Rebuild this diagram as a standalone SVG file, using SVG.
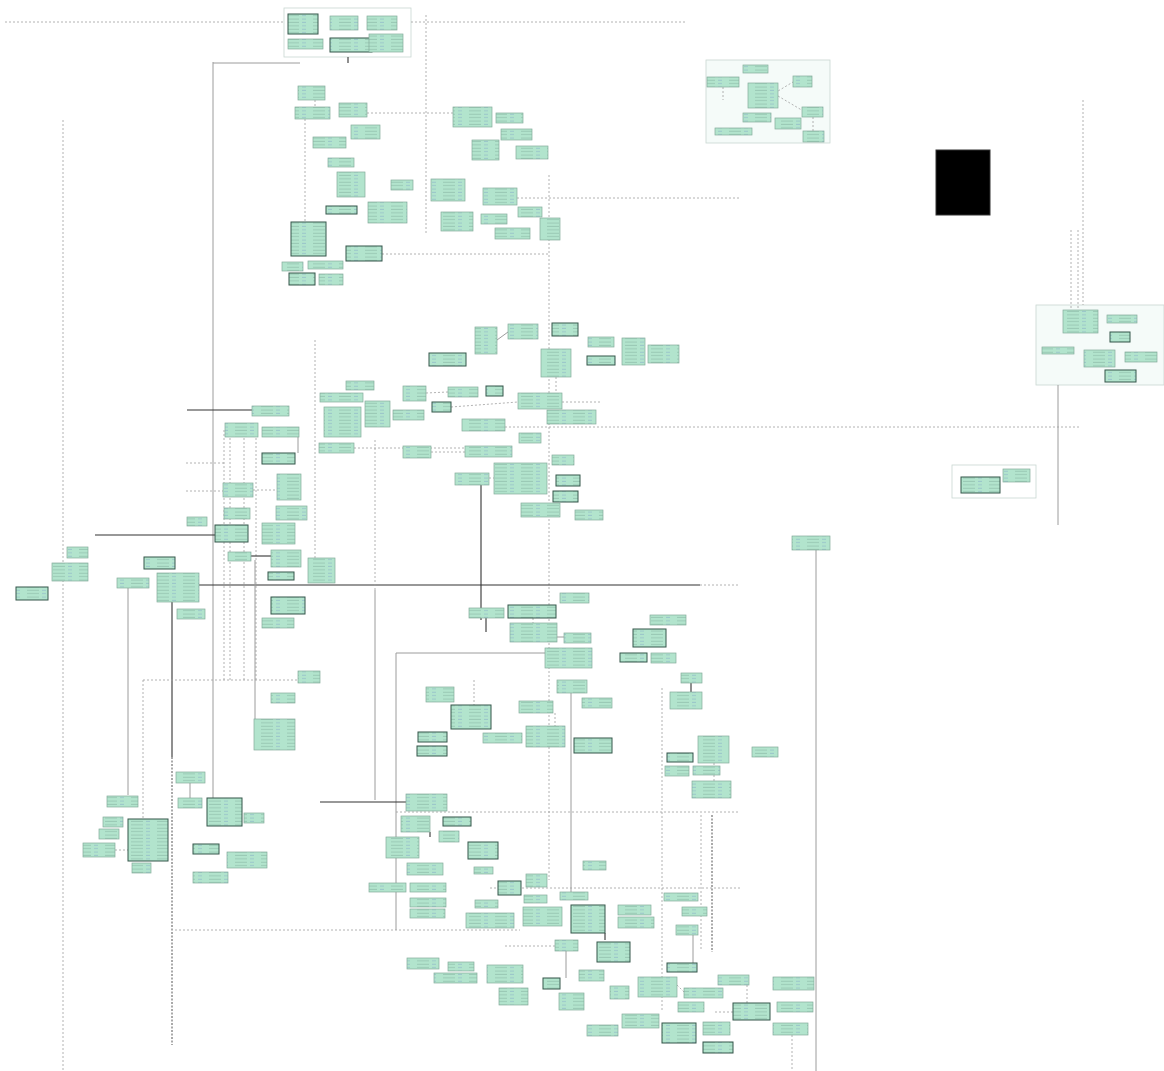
<svg xmlns="http://www.w3.org/2000/svg" width="1164" height="1071" viewBox="0 0 1164 1071">
<defs>
<pattern id="tx" patternUnits="userSpaceOnUse" width="26" height="3.4">
<rect width="26" height="3.4" fill="#b2e4cd"/>
<line x1="1" y1="2" x2="13" y2="2" stroke="#86b4a1" stroke-width="0.6"/>
<line x1="16" y1="2" x2="20" y2="2" stroke="#7fa6c6" stroke-width="0.5"/>
</pattern>
<style>
.n{fill:url(#tx);stroke:#84ab9a;stroke-width:0.7}
.d{stroke:#35564a;stroke-width:1}
.k{fill:#000;stroke:#333}
.f{fill:#f5fbf9;stroke:#c9d6d1;stroke-width:0.8}
.fw{fill:#ffffff;stroke:#c9d6d1;stroke-width:0.8}
.c{fill:none}
.dt{stroke:#a0a0a0;stroke-width:0.8;stroke-dasharray:2 2}
.dk{stroke:#555;stroke-width:1;stroke-dasharray:2 1.5}
.g{stroke:#9c9c9c;stroke-width:1}
.s{stroke:#333;stroke-width:1.1}
</style>
</defs>
<rect width="1164" height="1071" fill="#ffffff"/>
<g id="frames">
<rect class="fw" x="284" y="8" width="127" height="49"/>
<rect class="f" x="706" y="60" width="124" height="83"/>
<rect class="f" x="1036" y="305" width="128" height="80"/>
<rect class="fw" x="952" y="465" width="84" height="33"/>
</g>
<g id="connectors" class="c">
<line class="dt" x1="5" y1="22" x2="284" y2="22"/>
<line class="dt" x1="411" y1="22" x2="685" y2="22"/>
<line class="s" x1="348" y1="57" x2="348" y2="63"/>
<line class="g" x1="213" y1="62" x2="213" y2="800"/>
<line class="g" x1="213" y1="63" x2="300" y2="63"/>
<line class="dt" x1="426" y1="15" x2="426" y2="235"/>
<line class="dt" x1="367" y1="113" x2="453" y2="113"/>
<line class="dt" x1="305" y1="119" x2="305" y2="222"/>
<line class="dt" x1="382" y1="254" x2="549" y2="254"/>
<line class="dt" x1="549" y1="175" x2="549" y2="880"/>
<line class="dt" x1="517" y1="198" x2="740" y2="198"/>
<line class="dt" x1="63" y1="120" x2="63" y2="1071"/>
<line class="s" x1="199" y1="585" x2="700" y2="585"/>
<line class="dt" x1="700" y1="585" x2="740" y2="585"/>
<line class="s" x1="187" y1="410" x2="252" y2="410"/>
<line class="dt" x1="186" y1="491" x2="223" y2="491"/>
<line class="dt" x1="186" y1="463" x2="225" y2="463"/>
<line class="s" x1="95" y1="535" x2="215" y2="535"/>
<line class="dt" x1="315" y1="340" x2="315" y2="560"/>
<line class="dt" x1="375" y1="440" x2="375" y2="590"/>
<line class="g" x1="375" y1="590" x2="375" y2="800"/>
<line class="s" x1="481" y1="480" x2="481" y2="620"/>
<line class="s" x1="486" y1="618" x2="486" y2="632"/>
<line class="dt" x1="224" y1="430" x2="224" y2="680"/>
<line class="dt" x1="230" y1="430" x2="230" y2="680"/>
<line class="dt" x1="244" y1="430" x2="244" y2="680"/>
<line class="dt" x1="256" y1="430" x2="256" y2="680"/>
<line class="dt" x1="505" y1="427" x2="1080" y2="427"/>
<line class="dt" x1="562" y1="402" x2="600" y2="402"/>
<line class="dt" x1="354" y1="448" x2="465" y2="448"/>
<line class="g" x1="128" y1="588" x2="128" y2="795"/>
<line class="s" x1="172" y1="602" x2="172" y2="757"/>
<line class="dk" x1="172" y1="757" x2="172" y2="1045"/>
<line class="dt" x1="143" y1="680" x2="298" y2="680"/>
<line class="dt" x1="143" y1="680" x2="143" y2="820"/>
<line class="g" x1="255" y1="560" x2="255" y2="720"/>
<line class="g" x1="396" y1="653" x2="545" y2="653"/>
<line class="g" x1="396" y1="653" x2="396" y2="930"/>
<line class="g" x1="571" y1="693" x2="571" y2="892"/>
<line class="dt" x1="662" y1="688" x2="662" y2="1010"/>
<line class="dt" x1="701" y1="815" x2="701" y2="950"/>
<line class="dk" x1="712" y1="815" x2="712" y2="952"/>
<line class="dt" x1="396" y1="812" x2="740" y2="812"/>
<line class="s" x1="320" y1="802" x2="406" y2="802"/>
<line class="dt" x1="490" y1="888" x2="740" y2="888"/>
<line class="dt" x1="175" y1="930" x2="520" y2="930"/>
<line class="g" x1="816" y1="550" x2="816" y2="1071"/>
<line class="dt" x1="792" y1="1035" x2="792" y2="1071"/>
<line class="dt" x1="505" y1="946" x2="555" y2="946"/>
<line class="dt" x1="1083" y1="100" x2="1083" y2="305"/>
<line class="dt" x1="1071" y1="230" x2="1071" y2="310"/>
<line class="dt" x1="1078" y1="230" x2="1078" y2="310"/>
<line class="g" x1="1058" y1="385" x2="1058" y2="525"/>
<line class="dt" x1="768" y1="97" x2="793" y2="82"/>
<line class="dt" x1="778" y1="96" x2="805" y2="112"/>
<line class="dt" x1="723" y1="87" x2="723" y2="100"/>
<line class="dt" x1="813" y1="117" x2="813" y2="131"/>
<line class="g" x1="497" y1="340" x2="508" y2="332"/>
<line class="dt" x1="556" y1="377" x2="556" y2="393"/>
<line class="dt" x1="426" y1="393" x2="448" y2="392"/>
<line class="dt" x1="451" y1="407" x2="518" y2="402"/>
<line class="dt" x1="431" y1="452" x2="465" y2="452"/>
<line class="dt" x1="489" y1="478" x2="494" y2="478"/>
<line class="g" x1="298" y1="437" x2="298" y2="453"/>
<line class="dt" x1="253" y1="490" x2="277" y2="490"/>
<line class="s" x1="251" y1="556" x2="271" y2="556"/>
<line class="g" x1="190" y1="783" x2="190" y2="798"/>
<line class="dt" x1="115" y1="850" x2="128" y2="850"/>
<line class="dt" x1="315" y1="100" x2="315" y2="107"/>
<line class="s" x1="481" y1="925" x2="481" y2="913"/>
<line class="s" x1="588" y1="925" x2="588" y2="905"/>
<line class="g" x1="566" y1="951" x2="566" y2="978"/>
<line class="s" x1="605" y1="940" x2="605" y2="933"/>
<line class="g" x1="693" y1="935" x2="693" y2="963"/>
<line class="dt" x1="677" y1="985" x2="684" y2="992"/>
<line class="dt" x1="747" y1="985" x2="747" y2="1003"/>
<line class="dt" x1="715" y1="1012" x2="733" y2="1012"/>
<line class="s" x1="691" y1="683" x2="691" y2="692"/>
<line class="dt" x1="714" y1="763" x2="714" y2="781"/>
<line class="dt" x1="555" y1="713" x2="555" y2="726"/>
<line class="dt" x1="474" y1="680" x2="474" y2="705"/>
<line class="dt" x1="533" y1="618" x2="533" y2="623"/>
<line class="g" x1="557" y1="637" x2="564" y2="637"/>
<line class="s" x1="430" y1="832" x2="430" y2="837"/>
</g>
<g id="nodes">
<g id="n1"><rect class="n d" x="288" y="14" width="30" height="20"/></g>
<g id="n2"><rect class="n" x="330" y="16" width="28" height="14"/></g>
<g id="n3"><rect class="n" x="367" y="16" width="30" height="14"/></g>
<g id="n4"><rect class="n" x="288" y="39" width="35" height="10"/></g>
<g id="n5"><rect class="n d" x="330" y="38" width="42" height="14"/></g>
<g id="n6"><rect class="n" x="369" y="34" width="34" height="18"/></g>
<g id="n7"><rect class="n" x="743" y="65" width="25" height="8"/></g>
<g id="n8"><rect class="n" x="707" y="77" width="32" height="10"/></g>
<g id="n9"><rect class="n" x="748" y="83" width="30" height="25"/></g>
<g id="n10"><rect class="n" x="793" y="76" width="19" height="11"/></g>
<g id="n11"><rect class="n" x="743" y="113" width="28" height="9"/></g>
<g id="n12"><rect class="n" x="775" y="118" width="26" height="11"/></g>
<g id="n13"><rect class="n" x="802" y="107" width="21" height="10"/></g>
<g id="n14"><rect class="n" x="803" y="131" width="21" height="11"/></g>
<g id="n15"><rect class="n" x="715" y="128" width="37" height="7"/></g>
<g id="n16"><rect class="k" x="936" y="150" width="54" height="65"/></g>
<g id="n17"><rect class="n" x="1063" y="310" width="35" height="23"/></g>
<g id="n18"><rect class="n" x="1107" y="315" width="30" height="8"/></g>
<g id="n19"><rect class="n d" x="1110" y="332" width="20" height="10"/></g>
<g id="n20"><rect class="n" x="1042" y="347" width="32" height="7"/></g>
<g id="n21"><rect class="n" x="1084" y="350" width="31" height="17"/></g>
<g id="n22"><rect class="n" x="1125" y="352" width="32" height="10"/></g>
<g id="n23"><rect class="n d" x="1105" y="370" width="31" height="12"/></g>
<g id="n24"><rect class="n d" x="961" y="477" width="39" height="16"/></g>
<g id="n25"><rect class="n" x="1003" y="469" width="27" height="13"/></g>
<g id="n26"><rect class="n" x="298" y="86" width="27" height="14"/></g>
<g id="n27"><rect class="n" x="295" y="107" width="35" height="12"/></g>
<g id="n28"><rect class="n" x="339" y="103" width="28" height="14"/></g>
<g id="n29"><rect class="n" x="351" y="125" width="29" height="14"/></g>
<g id="n30"><rect class="n" x="313" y="137" width="33" height="11"/></g>
<g id="n31"><rect class="n" x="328" y="158" width="26" height="9"/></g>
<g id="n32"><rect class="n" x="337" y="172" width="28" height="25"/></g>
<g id="n33"><rect class="n" x="391" y="180" width="22" height="10"/></g>
<g id="n34"><rect class="n" x="368" y="202" width="39" height="21"/></g>
<g id="n35"><rect class="n d" x="326" y="206" width="31" height="8"/></g>
<g id="n36"><rect class="n d" x="291" y="222" width="35" height="34"/></g>
<g id="n37"><rect class="n d" x="346" y="246" width="36" height="15"/></g>
<g id="n38"><rect class="n" x="282" y="262" width="21" height="9"/></g>
<g id="n39"><rect class="n" x="308" y="261" width="35" height="8"/></g>
<g id="n40"><rect class="n d" x="289" y="273" width="26" height="12"/></g>
<g id="n41"><rect class="n" x="319" y="274" width="24" height="11"/></g>
<g id="n42"><rect class="n" x="453" y="107" width="39" height="20"/></g>
<g id="n43"><rect class="n" x="496" y="113" width="27" height="10"/></g>
<g id="n44"><rect class="n" x="501" y="129" width="31" height="11"/></g>
<g id="n45"><rect class="n" x="472" y="140" width="27" height="20"/></g>
<g id="n46"><rect class="n" x="516" y="146" width="32" height="13"/></g>
<g id="n47"><rect class="n" x="431" y="179" width="34" height="22"/></g>
<g id="n48"><rect class="n" x="483" y="188" width="34" height="17"/></g>
<g id="n49"><rect class="n" x="441" y="212" width="32" height="19"/></g>
<g id="n50"><rect class="n" x="481" y="214" width="26" height="10"/></g>
<g id="n51"><rect class="n" x="518" y="207" width="24" height="10"/></g>
<g id="n52"><rect class="n" x="495" y="228" width="35" height="11"/></g>
<g id="n53"><rect class="n" x="540" y="218" width="20" height="22"/></g>
<g id="n54"><rect class="n" x="475" y="327" width="22" height="27"/></g>
<g id="n55"><rect class="n" x="508" y="324" width="30" height="15"/></g>
<g id="n56"><rect class="n d" x="552" y="323" width="26" height="13"/></g>
<g id="n57"><rect class="n" x="588" y="337" width="26" height="10"/></g>
<g id="n58"><rect class="n d" x="429" y="353" width="37" height="13"/></g>
<g id="n59"><rect class="n" x="541" y="349" width="30" height="28"/></g>
<g id="n60"><rect class="n d" x="587" y="356" width="28" height="9"/></g>
<g id="n61"><rect class="n" x="622" y="338" width="23" height="27"/></g>
<g id="n62"><rect class="n" x="648" y="345" width="31" height="18"/></g>
<g id="n63"><rect class="n" x="346" y="381" width="28" height="9"/></g>
<g id="n64"><rect class="n" x="320" y="393" width="43" height="9"/></g>
<g id="n65"><rect class="n" x="324" y="407" width="37" height="30"/></g>
<g id="n66"><rect class="n" x="365" y="401" width="25" height="26"/></g>
<g id="n67"><rect class="n" x="393" y="410" width="31" height="10"/></g>
<g id="n68"><rect class="n" x="403" y="386" width="23" height="15"/></g>
<g id="n69"><rect class="n" x="448" y="387" width="30" height="10"/></g>
<g id="n70"><rect class="n d" x="486" y="386" width="17" height="10"/></g>
<g id="n71"><rect class="n d" x="432" y="402" width="19" height="10"/></g>
<g id="n72"><rect class="n" x="518" y="393" width="44" height="16"/></g>
<g id="n73"><rect class="n" x="547" y="410" width="49" height="14"/></g>
<g id="n74"><rect class="n" x="462" y="419" width="43" height="12"/></g>
<g id="n75"><rect class="n" x="519" y="433" width="22" height="10"/></g>
<g id="n76"><rect class="n" x="319" y="443" width="35" height="10"/></g>
<g id="n77"><rect class="n" x="403" y="446" width="28" height="12"/></g>
<g id="n78"><rect class="n" x="465" y="446" width="47" height="11"/></g>
<g id="n79"><rect class="n" x="494" y="463" width="53" height="31"/></g>
<g id="n80"><rect class="n" x="455" y="473" width="34" height="12"/></g>
<g id="n81"><rect class="n" x="552" y="455" width="22" height="10"/></g>
<g id="n82"><rect class="n d" x="556" y="475" width="24" height="11"/></g>
<g id="n83"><rect class="n d" x="553" y="491" width="25" height="11"/></g>
<g id="n84"><rect class="n" x="521" y="503" width="39" height="14"/></g>
<g id="n85"><rect class="n" x="575" y="510" width="28" height="10"/></g>
<g id="n86"><rect class="n" x="252" y="406" width="37" height="10"/></g>
<g id="n87"><rect class="n" x="225" y="423" width="33" height="14"/></g>
<g id="n88"><rect class="n" x="262" y="427" width="37" height="10"/></g>
<g id="n89"><rect class="n d" x="262" y="453" width="33" height="11"/></g>
<g id="n90"><rect class="n" x="223" y="483" width="30" height="14"/></g>
<g id="n91"><rect class="n" x="277" y="474" width="24" height="26"/></g>
<g id="n92"><rect class="n" x="224" y="508" width="26" height="11"/></g>
<g id="n93"><rect class="n" x="276" y="506" width="31" height="14"/></g>
<g id="n94"><rect class="n" x="187" y="517" width="20" height="9"/></g>
<g id="n95"><rect class="n d" x="215" y="525" width="33" height="17"/></g>
<g id="n96"><rect class="n" x="262" y="523" width="33" height="21"/></g>
<g id="n97"><rect class="n" x="228" y="552" width="23" height="9"/></g>
<g id="n98"><rect class="n" x="271" y="550" width="30" height="17"/></g>
<g id="n99"><rect class="n d" x="268" y="572" width="26" height="8"/></g>
<g id="n100"><rect class="n" x="308" y="558" width="27" height="25"/></g>
<g id="n101"><rect class="n" x="67" y="547" width="21" height="11"/></g>
<g id="n102"><rect class="n" x="52" y="563" width="36" height="18"/></g>
<g id="n103"><rect class="n d" x="16" y="587" width="32" height="13"/></g>
<g id="n104"><rect class="n d" x="144" y="557" width="31" height="12"/></g>
<g id="n105"><rect class="n" x="117" y="578" width="32" height="10"/></g>
<g id="n106"><rect class="n" x="157" y="573" width="42" height="29"/></g>
<g id="n107"><rect class="n" x="177" y="609" width="28" height="10"/></g>
<g id="n108"><rect class="n d" x="271" y="597" width="34" height="17"/></g>
<g id="n109"><rect class="n" x="262" y="618" width="32" height="10"/></g>
<g id="n110"><rect class="n" x="298" y="671" width="22" height="12"/></g>
<g id="n111"><rect class="n" x="271" y="693" width="24" height="10"/></g>
<g id="n112"><rect class="n" x="254" y="719" width="41" height="31"/></g>
<g id="n113"><rect class="n" x="176" y="772" width="29" height="11"/></g>
<g id="n114"><rect class="n" x="178" y="798" width="24" height="10"/></g>
<g id="n115"><rect class="n d" x="207" y="798" width="35" height="28"/></g>
<g id="n116"><rect class="n" x="244" y="813" width="20" height="10"/></g>
<g id="n117"><rect class="n" x="107" y="796" width="31" height="11"/></g>
<g id="n118"><rect class="n" x="103" y="817" width="20" height="10"/></g>
<g id="n119"><rect class="n" x="99" y="829" width="20" height="10"/></g>
<g id="n120"><rect class="n" x="83" y="843" width="32" height="14"/></g>
<g id="n121"><rect class="n d" x="128" y="819" width="40" height="42"/></g>
<g id="n122"><rect class="n" x="132" y="863" width="19" height="10"/></g>
<g id="n123"><rect class="n d" x="193" y="844" width="26" height="10"/></g>
<g id="n124"><rect class="n" x="227" y="852" width="40" height="16"/></g>
<g id="n125"><rect class="n" x="193" y="872" width="35" height="11"/></g>
<g id="n126"><rect class="n" x="469" y="608" width="35" height="10"/></g>
<g id="n127"><rect class="n d" x="508" y="605" width="48" height="13"/></g>
<g id="n128"><rect class="n" x="510" y="623" width="47" height="19"/></g>
<g id="n129"><rect class="n" x="564" y="633" width="27" height="10"/></g>
<g id="n130"><rect class="n" x="545" y="648" width="47" height="20"/></g>
<g id="n131"><rect class="n" x="560" y="593" width="29" height="10"/></g>
<g id="n132"><rect class="n" x="650" y="615" width="36" height="10"/></g>
<g id="n133"><rect class="n d" x="633" y="629" width="33" height="18"/></g>
<g id="n134"><rect class="n d" x="620" y="653" width="27" height="9"/></g>
<g id="n135"><rect class="n" x="651" y="653" width="25" height="10"/></g>
<g id="n136"><rect class="n" x="557" y="680" width="30" height="13"/></g>
<g id="n137"><rect class="n" x="519" y="701" width="34" height="12"/></g>
<g id="n138"><rect class="n" x="582" y="698" width="30" height="10"/></g>
<g id="n139"><rect class="n" x="426" y="687" width="28" height="15"/></g>
<g id="n140"><rect class="n d" x="451" y="705" width="40" height="24"/></g>
<g id="n141"><rect class="n d" x="418" y="732" width="29" height="10"/></g>
<g id="n142"><rect class="n d" x="417" y="746" width="30" height="10"/></g>
<g id="n143"><rect class="n" x="483" y="733" width="39" height="10"/></g>
<g id="n144"><rect class="n" x="526" y="726" width="39" height="21"/></g>
<g id="n145"><rect class="n d" x="574" y="738" width="38" height="15"/></g>
<g id="n146"><rect class="n" x="681" y="673" width="21" height="10"/></g>
<g id="n147"><rect class="n" x="670" y="692" width="32" height="17"/></g>
<g id="n148"><rect class="n" x="698" y="736" width="31" height="27"/></g>
<g id="n149"><rect class="n d" x="667" y="753" width="26" height="9"/></g>
<g id="n150"><rect class="n" x="665" y="766" width="24" height="10"/></g>
<g id="n151"><rect class="n" x="693" y="766" width="27" height="9"/></g>
<g id="n152"><rect class="n" x="692" y="781" width="39" height="17"/></g>
<g id="n153"><rect class="n" x="406" y="794" width="41" height="17"/></g>
<g id="n154"><rect class="n" x="401" y="816" width="29" height="16"/></g>
<g id="n155"><rect class="n" x="386" y="837" width="33" height="21"/></g>
<g id="n156"><rect class="n d" x="443" y="817" width="28" height="9"/></g>
<g id="n157"><rect class="n" x="439" y="831" width="20" height="11"/></g>
<g id="n158"><rect class="n d" x="468" y="842" width="30" height="17"/></g>
<g id="n159"><rect class="n" x="474" y="867" width="19" height="7"/></g>
<g id="n160"><rect class="n" x="407" y="863" width="36" height="12"/></g>
<g id="n161"><rect class="n" x="583" y="861" width="23" height="9"/></g>
<g id="n162"><rect class="n" x="526" y="874" width="21" height="13"/></g>
<g id="n163"><rect class="n d" x="498" y="881" width="23" height="14"/></g>
<g id="n164"><rect class="n" x="369" y="883" width="37" height="9"/></g>
<g id="n165"><rect class="n" x="410" y="883" width="36" height="9"/></g>
<g id="n166"><rect class="n" x="410" y="898" width="36" height="9"/></g>
<g id="n167"><rect class="n" x="410" y="909" width="35" height="9"/></g>
<g id="n168"><rect class="n" x="466" y="913" width="48" height="15"/></g>
<g id="n169"><rect class="n" x="475" y="900" width="23" height="8"/></g>
<g id="n170"><rect class="n" x="524" y="895" width="23" height="8"/></g>
<g id="n171"><rect class="n" x="523" y="907" width="39" height="19"/></g>
<g id="n172"><rect class="n" x="560" y="892" width="28" height="8"/></g>
<g id="n173"><rect class="n d" x="571" y="905" width="34" height="28"/></g>
<g id="n174"><rect class="n" x="618" y="905" width="33" height="10"/></g>
<g id="n175"><rect class="n" x="618" y="917" width="36" height="11"/></g>
<g id="n176"><rect class="n" x="664" y="893" width="34" height="8"/></g>
<g id="n177"><rect class="n" x="682" y="907" width="25" height="9"/></g>
<g id="n178"><rect class="n" x="676" y="925" width="22" height="10"/></g>
<g id="n179"><rect class="n" x="555" y="940" width="23" height="11"/></g>
<g id="n180"><rect class="n d" x="597" y="942" width="33" height="20"/></g>
<g id="n181"><rect class="n" x="407" y="958" width="32" height="11"/></g>
<g id="n182"><rect class="n" x="448" y="962" width="26" height="9"/></g>
<g id="n183"><rect class="n" x="434" y="973" width="43" height="10"/></g>
<g id="n184"><rect class="n" x="487" y="965" width="36" height="18"/></g>
<g id="n185"><rect class="n" x="499" y="988" width="29" height="17"/></g>
<g id="n186"><rect class="n d" x="543" y="978" width="17" height="11"/></g>
<g id="n187"><rect class="n" x="559" y="993" width="25" height="17"/></g>
<g id="n188"><rect class="n" x="579" y="970" width="25" height="11"/></g>
<g id="n189"><rect class="n" x="610" y="986" width="19" height="13"/></g>
<g id="n190"><rect class="n d" x="667" y="963" width="30" height="9"/></g>
<g id="n191"><rect class="n" x="638" y="977" width="39" height="20"/></g>
<g id="n192"><rect class="n" x="684" y="988" width="39" height="10"/></g>
<g id="n193"><rect class="n" x="678" y="1002" width="26" height="10"/></g>
<g id="n194"><rect class="n" x="622" y="1014" width="37" height="14"/></g>
<g id="n195"><rect class="n" x="587" y="1025" width="31" height="11"/></g>
<g id="n196"><rect class="n d" x="662" y="1023" width="34" height="20"/></g>
<g id="n197"><rect class="n" x="703" y="1022" width="27" height="13"/></g>
<g id="n198"><rect class="n d" x="703" y="1042" width="30" height="11"/></g>
<g id="n199"><rect class="n" x="718" y="975" width="31" height="10"/></g>
<g id="n200"><rect class="n d" x="733" y="1003" width="37" height="17"/></g>
<g id="n201"><rect class="n" x="773" y="977" width="41" height="13"/></g>
<g id="n202"><rect class="n" x="777" y="1002" width="36" height="10"/></g>
<g id="n203"><rect class="n" x="773" y="1023" width="35" height="12"/></g>
<g id="n204"><rect class="n" x="792" y="536" width="38" height="14"/></g>
<g id="n205"><rect class="n" x="752" y="747" width="26" height="10"/></g>
</g>
</svg>
